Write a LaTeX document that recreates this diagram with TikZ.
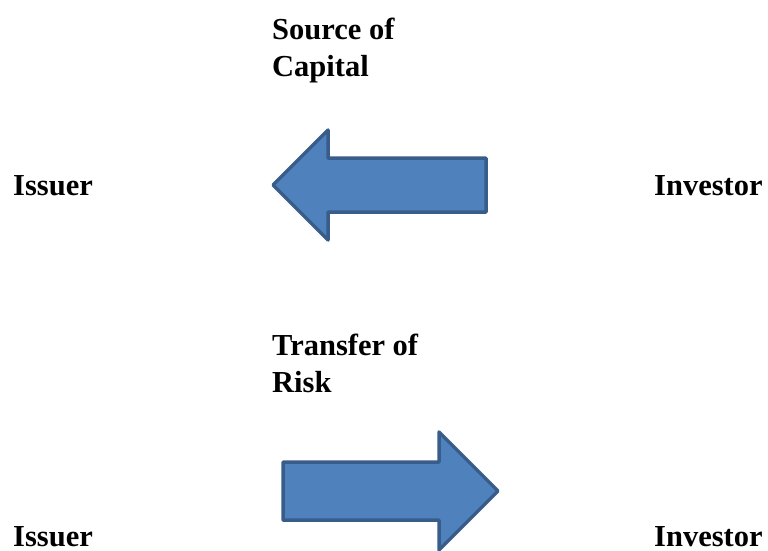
\documentclass[tikz,border=0pt]{standalone}
\usepackage{fontspec}
\setmainfont{Liberation Serif}
\usetikzlibrary{positioning}

\definecolor{arrowfill}{RGB}{79,129,189}
\definecolor{arrowline}{RGB}{56,93,138}

\begin{document}
\begin{tikzpicture}[
    x=1pt, y=-1pt,
    % Style for the party names and the flow labels
    party/.style={anchor=base west, inner sep=0pt, font=\bfseries\fontsize{30.5}{37}\selectfont},
    flowlabel/.style={party, align=left}, % base = last line
    % Style for the block arrows
    blockarrow/.style={fill=arrowfill, draw=arrowline, line width=3.5pt, line join=round}
]

% Fix the picture size (origin at top left)
\useasboundingbox (0,0) rectangle (768,550);

% Upper row: capital flows from investor to issuer
\node[party] (issuerA) at (13,195) {Issuer};
\node[party] (investorA) at (654,195) {Investor};
\node[flowlabel] (capital) at (272,76) {Source of\\Capital};

% Left pointing arrow
\draw[blockarrow] (273,185) -- (328,130) -- (328,158) -- (486,158)
    -- (486,212) -- (328,212) -- (328,240) -- cycle;

% Lower row: risk passes from issuer to investor
\node[party] (issuerB) at (13,546) {Issuer};
\node[party] (investorB) at (654,546) {Investor};
\node[flowlabel] (risk) at (272,392) {Transfer of\\Risk};

% Right pointing arrow
\draw[blockarrow] (283,462) -- (439,462) -- (439,432) -- (498,491)
    -- (439,550) -- (439,520) -- (283,520) -- cycle;

\end{tikzpicture}
\end{document}
